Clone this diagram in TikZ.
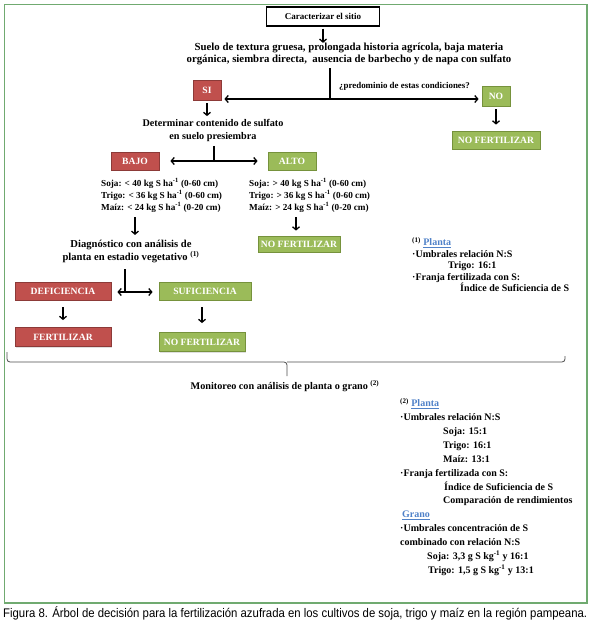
\documentclass[tikz,border=0pt]{standalone}
\usepackage{fontspec}
\setmainfont{Liberation Serif}
\newfontfamily\leyenda[FakeStretch=0.91]{Liberation Sans}
\usetikzlibrary{arrows.meta,shadows}
\definecolor{rojocaja}{RGB}{192,80,77}
\definecolor{rojoborde}{RGB}{140,58,56}
\definecolor{verdecaja}{RGB}{155,187,89}
\definecolor{verdeborde}{RGB}{118,146,60}
\definecolor{marcoverde}{RGB}{112,170,112}
\definecolor{enlace}{RGB}{79,129,200}
\newcommand{\vinculo}[1]{{\color{enlace}\underline{#1}}}
\tikzset{
  caja/.style={text=white, font=\bfseries\fontsize{9.6}{10}\selectfont, inner sep=0pt,
    minimum height=18pt, line width=0.8pt,
    drop shadow={shadow xshift=1pt, shadow yshift=-1pt, opacity=0.25}},
  rojo/.style={caja, fill=rojocaja, draw=rojoborde},
  verde/.style={caja, fill=verdecaja, draw=verdeborde},
  texto/.style={font=\bfseries\fontsize{10.8}{12}\selectfont, align=center, inner sep=0pt},
  lista/.style={font=\bfseries\fontsize{9.2}{12}\selectfont, align=left, inner sep=0pt},
  nota/.style={font=\bfseries\fontsize{10}{11.5}\selectfont, align=left, inner sep=0pt},
  flecha/.style={line width=1.3pt, -{Straight Barb[length=3pt,width=7pt]}},
  dflecha/.style={line width=1.3pt, {Straight Barb[length=3pt,width=7pt]}-{Straight Barb[length=3pt,width=7pt]}},
}
\begin{document}
\begin{tikzpicture}[x=1pt,y=-1pt]
\useasboundingbox (0,0) rectangle (590,624);
% marco
\draw[marcoverde, line width=1.5pt] (4.5,4.5) rectangle (587,603);
% inicio
\node[draw, line width=1.2pt, fill=white, minimum width=113pt, minimum height=19pt, inner sep=0pt,
  font=\bfseries\fontsize{9}{10}\selectfont] (sitio) at (323,16.5) {Caracterizar el sitio};
\node[texto] (suelo) at (349,54) {Suelo de textura gruesa, prolongada historia agrícola, baja materia\\
  orgánica, siembra directa,\ \ ausencia de barbecho y de napa con sulfato};
\draw[flecha] (sitio.south) ++(0,2) -- (sitio.south |- suelo.north);
\coordinate (cruce) at (330,99);
\draw[line width=1.3pt] (cruce |- suelo.south) ++(0,3) -- (cruce);
\node[rojo, minimum width=28pt, minimum height=20pt] (si) at (207,90) {SI};
\node[verde, minimum width=28pt, minimum height=20pt] (no) at (496,96) {NO};
\draw[dflecha, shorten <=3pt, shorten >=3pt] (si.east |- cruce) -- (no.west |- cruce);
\node[lista, anchor=south west, font=\bfseries\fontsize{8.9}{10}\selectfont] (pregunta) at (339,91) {¿predominio de estas condiciones?};
\node[verde, minimum width=88pt] (nofert1) at (496,140) {NO FERTILIZAR};
\draw[flecha, shorten <=3pt, shorten >=6pt] (no) -- (nofert1);
% sulfato
\node[texto, font=\bfseries\fontsize{10.2}{13}\selectfont] (sulfato) at (213,130.5) {Determinar contenido de sulfato\\en suelo presiembra};
\draw[flecha, shorten <=3pt, shorten >=3pt] (si.south) -- (si.south |- sulfato.north);
\node[rojo, minimum width=48pt] (bajo) at (135,161) {BAJO};
\node[verde, minimum width=48pt] (alto) at (292,161) {ALTO};
\coordinate (rama1) at (214,161);
\draw[line width=1.3pt] (sulfato.south -| rama1) ++(0,4) -- (rama1);
\draw[dflecha, shorten <=11pt, shorten >=10pt] (bajo.east |- rama1) -- (alto.west |- rama1);
\node[lista, anchor=west] (bajolista) at (101,195) {Soja: < 40 kg S ha\textsuperscript{-1} (0-60 cm)\\
  Trigo: < 36 kg S ha\textsuperscript{-1} (0-60 cm)\\Maíz: < 24 kg S ha\textsuperscript{-1} (0-20 cm)};
\node[lista, anchor=west] (altolista) at (249,195) {Soja: > 40 kg S ha\textsuperscript{-1} (0-60 cm)\\
  Trigo: > 36 kg S ha\textsuperscript{-1} (0-60 cm)\\Maíz: > 24 kg S ha\textsuperscript{-1} (0-20 cm)};
\node[verde, minimum width=82pt, minimum height=16pt] (nofert2) at (299,244) {NO FERTILIZAR};
\coordinate (bajada) at (296,230);
\draw[flecha, shorten <=5pt, shorten >=5pt] (altolista.south -| bajada) -- (bajada |- nofert2.north);
% diagnostico
\node[texto, font=\bfseries\fontsize{10.6}{13}\selectfont] (diag) at (131,251.5) {Diagnóstico con análisis de\\planta en estadio vegetativo \textsuperscript{(1)}};
\draw[flecha, shorten <=5pt, shorten >=5pt] (bajolista.south -| bajo) -- (bajo |- diag.north);
\node[rojo, minimum width=96pt] (deficiencia) at (63,291) {DEFICIENCIA};
\node[verde, minimum width=92pt] (suficiencia) at (205,291) {SUFICIENCIA};
\coordinate (rama2) at (125,292);
\draw[line width=1.3pt] (diag.south -| rama2) ++(0,6) -- (rama2);
\draw[dflecha, shorten <=6pt, shorten >=6pt] (deficiencia.east |- rama2) -- (suficiencia.west |- rama2);
\node[rojo, minimum width=96pt, minimum height=19pt] (fertilizar) at (63,337) {FERTILIZAR};
\node[verde, minimum width=86pt, minimum height=19pt] (nofert3) at (202,342) {NO FERTILIZAR};
\draw[flecha, shorten <=7pt, shorten >=7pt] (deficiencia) -- (fertilizar);
\draw[flecha, shorten <=7pt, shorten >=9pt] (suficiencia.south -| nofert3) -- (nofert3);
% nota 1
\node[nota, anchor=north west] (nota1) at (412,237) {\textsuperscript{(1)} \vinculo{Planta}\\
  ·Umbrales relación N:S\\
  \hspace*{36pt}Trigo: 16:1\\
  ·Franja fertilizada con S:\\
  \hspace*{48pt}Índice de Suficiencia de S};
% llave
\draw[black!70, line width=0.8pt, rounded corners=3pt] (7,352) -- (7,362) -- (287,362) -- (287,376);
\draw[black!70, line width=0.8pt, rounded corners=3pt] (565,356) -- (565,362) -- (287,362);
\node[texto, font=\bfseries\fontsize{10.2}{11}\selectfont] (monitoreo) at (285,386) {Monitoreo con análisis de planta o grano \textsuperscript{(2)}};
% nota 2
\node[nota, anchor=north west, font=\bfseries\fontsize{10}{13.9}\selectfont] (nota2) at (400,398) {\textsuperscript{(2)} \vinculo{Planta}\\
  ·Umbrales relación N:S\\
  \hspace*{43pt}Soja: 15:1\\
  \hspace*{43pt}Trigo: 16:1\\
  \hspace*{43pt}Maíz: 13:1\\
  ·Franja fertilizada con S:\\
  \hspace*{44pt}Índice de Suficiencia de S\\
  \hspace*{43pt}Comparación de rendimientos\\
  \hspace*{2pt}\vinculo{Grano}\\
  ·Umbrales concentración de S\\
  combinado con relación N:S\\
  \hspace*{27pt}Soja: 3,3 g S kg\textsuperscript{-1} y 16:1\\
  \hspace*{28pt}Trigo: 1,5 g S kg\textsuperscript{-1} y 13:1};
% leyenda
\node[anchor=west, inner sep=0pt, font=\leyenda\fontsize{12.5}{14}\selectfont] (figura) at (3,613)
  {Figura 8. Árbol de decisión para la fertilización azufrada en los cultivos de soja, trigo y maíz en la región pampeana.};
\end{tikzpicture}
\end{document}
